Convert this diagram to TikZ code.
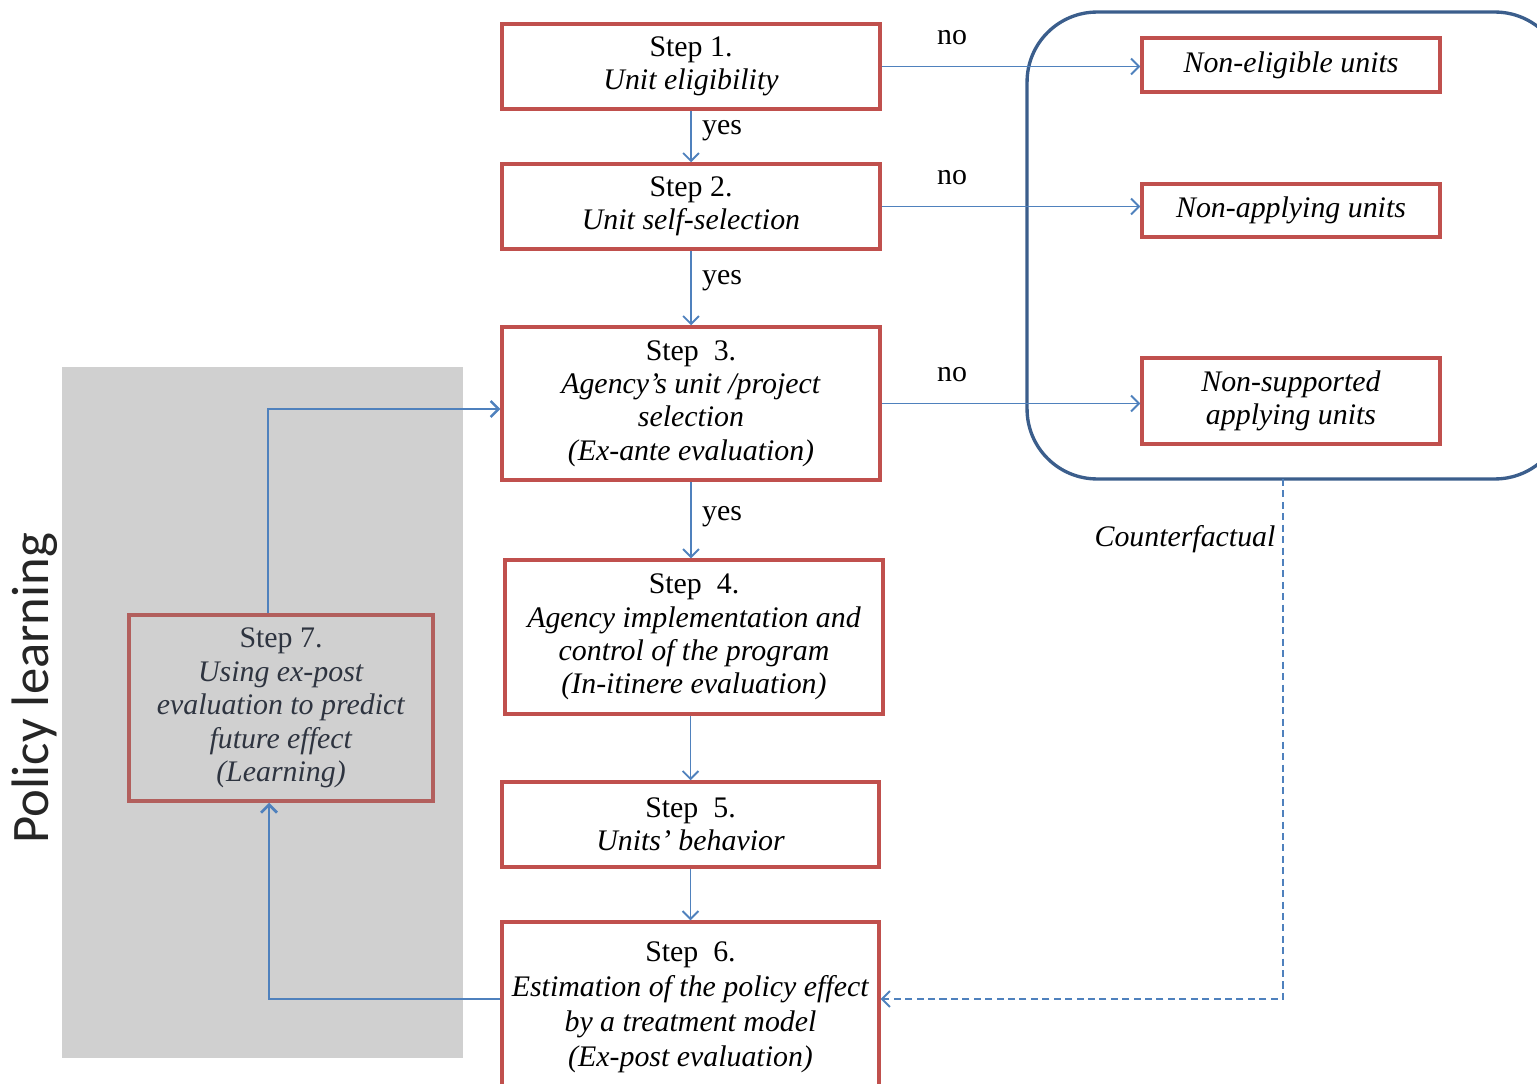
\documentclass[tikz,border=0pt]{standalone}
\usepackage{fontspec}
\setmainfont{Liberation Serif}
\newfontfamily\plfont{Carlito}
\usetikzlibrary{arrows.meta,calc}
\definecolor{boxred}{HTML}{C0504D}
\definecolor{mutedred}{HTML}{B25F5D}
\definecolor{lineblue}{HTML}{4F81BD}
\definecolor{frameblue}{HTML}{3B5E8C}
\definecolor{panelgray}{HTML}{D0D0D0}
\definecolor{graytext}{HTML}{2E3440}
\begin{document}
\begin{tikzpicture}[x=0.02cm,y=-0.02cm,
  stepbox/.style={draw=boxred, fill=white, line width=2pt, align=center, inner sep=0pt,
    font=\fontsize{17}{19}\selectfont},
  learnbox/.style={draw=mutedred, line width=2pt, align=center, inner sep=0pt,
    text=graytext, font=\fontsize{17}{19}\selectfont},
  flow/.style={draw=lineblue, line width=1.1pt, -{Straight Barb[length=4.5pt,width=9pt]}},
  loopflow/.style={draw=lineblue, line width=1.6pt, -{Straight Barb[length=4.5pt,width=9pt]}},
  cfflow/.style={draw=lineblue, line width=1.1pt, dash pattern=on 4pt off 2.5pt, -{Straight Barb[length=4.5pt,width=9pt]}},
  lbl/.style={font=\fontsize{17}{19}\selectfont, inner sep=0pt}
]
\path[use as bounding box] (0,0) rectangle (1537,1084);
\clip (0,0) rectangle (1537,1084);

% grey panel
\fill[panelgray] (62,367) rectangle (463,1058);
\node[rotate=90, font=\plfont\fontsize{30}{34}\selectfont, text=black!85] (pl) at (35,688) {Policy learning};

% counterfactual frame
\node[draw=frameblue, line width=1.9pt, rounded corners=1.4cm, minimum width=10.76cm, minimum height=9.34cm, inner sep=0pt] (cfbox) at (1296,245.5) {};

% main steps
\node[stepbox, minimum width=7.56cm, minimum height=1.70cm] (s1) at (691,66.5) {Step 1.\\\textit{Unit eligibility}};
\node[stepbox, minimum width=7.56cm, minimum height=1.70cm] (s2) at (691,206.5) {Step 2.\\\textit{Unit self-selection}};
\node[stepbox, minimum width=7.56cm, minimum height=3.06cm] (s3) at (691,403.5) {Step\enspace 3.\\\textit{Agency's unit /project}\\\textit{selection}\\\textit{(Ex-ante evaluation)}};
\node[stepbox, minimum width=7.56cm, minimum height=3.08cm] (s4) at (694,637) {Step\enspace 4.\\\textit{Agency implementation and}\\\textit{control of the program}\\\textit{(In-itinere evaluation)}};
\node[stepbox, minimum width=7.54cm, minimum height=1.70cm] (s5) at (690.5,824.5) {Step\enspace 5.\\\textit{Units'\ behavior}};
\node[stepbox, minimum width=7.54cm, minimum height=3.40cm] (s6) at (690.5,1007) {Step\enspace 6.\\[1pt]\textit{Estimation of the policy effect}\\[1pt]\textit{by a treatment model}\\[1pt]\textit{(Ex-post evaluation)}};
\node[learnbox, minimum width=6.08cm, minimum height=3.72cm] (s7) at (281,708) {Step 7.\\\textit{Using ex-post}\\\textit{evaluation to predict}\\\textit{future effect}\\\textit{(Learning)}};

% outcome boxes
\node[stepbox, minimum width=5.96cm, minimum height=1.08cm] (ne) at (1291,65) {\textit{Non-eligible units}};
\node[stepbox, minimum width=5.96cm, minimum height=1.06cm] (na) at (1291,210.5) {\textit{Non-applying units}};
\node[stepbox, minimum width=5.96cm, minimum height=1.72cm] (ns) at (1291,401) {\textit{Non-supported}\\\textit{applying units}};

% vertical flow
\draw[flow] (s1.south) -- (s2.north);
\draw[flow] (s2.south) -- (s3.north);
\draw[flow] (s3.south) -- (s3.south |- s4.north);
\draw[flow] (s4.south -| s5.north) -- (s5.north);
\draw[flow] (s5.south) -- (s6.north);

% no branches
\draw[flow] (s1.east) -- (s1.east -| ne.west);
\draw[flow] (s2.east) -- (s2.east -| na.west);
\draw[flow] (s3.east) -- (s3.east -| ns.west);

% labels
\node[lbl] (no1) at (952,38) {no};
\node[lbl] (no2) at (952,178) {no};
\node[lbl] (no3) at (952,375) {no};
\node[lbl] (yes1) at (722,131) {yes};
\node[lbl] (yes2) at (722,281) {yes};
\node[lbl] (yes3) at (722,517) {yes};
\node[lbl, font=\fontsize{17}{19}\selectfont\itshape] (cf) at (1185,539) {Counterfactual};

% learning loop
\draw[loopflow] ([yshift=0.16cm]s6.west) -| ([xshift=-0.24cm]s7.south);
\draw[flow, line width=1.4pt] ([xshift=-0.26cm]s7.north) |- ([yshift=-0.11cm]s3.west);

% counterfactual link
\coordinate (cfout) at (1283,479);
\draw[cfflow] (cfout) |- ([yshift=0.16cm]s6.east);
\end{tikzpicture}
\end{document}
